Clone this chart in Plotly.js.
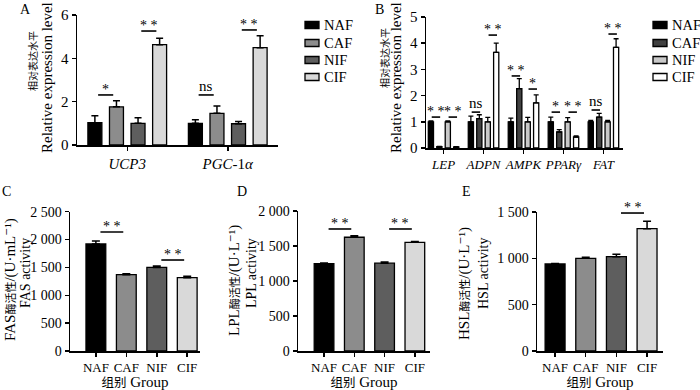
<!DOCTYPE html>
<html><head><meta charset="utf-8">
<script src="https://cdn.plot.ly/plotly-3.0.1.min.js"></script>
<style>html,body{margin:0;padding:0;background:#fff}#chart{width:700px;height:390px}</style>
</head><body><div id="chart"></div>
<script>
// ---------- data ----------
const groups = ['NAF', 'CAF', 'NIF', 'CIF'];

const genesA = ['UCP3', 'PGC-1α'];
const genesA_ticks = ['<i>UCP3</i>', '<i>PGC</i>-1<i>α</i>'];
const A_NAF = [1.03, 1.00], A_NAF_sd = [0.32, 0.17];
const A_CAF = [1.76, 1.46], A_CAF_sd = [0.28, 0.34];
const A_NIF = [1.00, 0.98], A_NIF_sd = [0.26, 0.11];
const A_CIF = [4.63, 4.49], A_CIF_sd = [0.30, 0.55];

const genesB = ['LEP', 'ADPN', 'AMPK', 'PPARγ', 'FAT'];
const genesB_ticks = ['<i>LEP</i>', '<i>ADPN</i>', '<i>AMPK</i>', '<i>PPARγ</i>', '<i>FAT</i>'];
const B_NAF = [1.00, 1.00, 1.00, 1.00, 1.00], B_NAF_sd = [0.03, 0.22, 0.14, 0.18, 0.05];
const B_CAF = [0.05, 1.12, 2.27, 0.61, 1.18], B_CAF_sd = [0.01, 0.15, 0.38, 0.09, 0.14];
const B_NIF = [1.00, 1.00, 1.00, 1.00, 1.00], B_NIF_sd = [0.03, 0.17, 0.17, 0.16, 0.05];
const B_CIF = [0.04, 3.65, 1.72, 0.42, 3.84], B_CIF_sd = [0.01, 0.35, 0.31, 0.04, 0.33];

const FAS = [1920, 1370, 1500, 1316], FAS_sd = [55, 18, 25, 24];
const LPL = [1248, 1625, 1255, 1553], LPL_sd = [10, 20, 15, 12];
const HSL = [939, 1000, 1018, 1320], HSL_sd = [6, 11, 25, 79];

// significance marks: [groupIndex, barFrom, barTo, level, label]
const sigA = [[0,0,1,2.31,'*'],[0,2,3,5.26,'* *'],[1,0,1,2.31,'ns'],[1,2,3,5.31,'* *']];
const sigB = [[0,0,1,1.18,'* *'],[0,2,3,1.18,'* *'],[1,0,1,1.37,'ns'],[1,2,3,4.31,'* *'],
              [2,0,1,2.75,'* *'],[2,2,3,2.25,'*'],[3,0,1,1.37,'*'],[3,2,3,1.37,'* *'],
              [4,0,1,1.45,'ns'],[4,2,3,4.35,'* *']];
const sigC = [[0,1,2136,'* *'],[2,3,1633,'* *']];
const sigD = [[0,1,1743,'* *'],[2,3,1743,'* *']];
const sigE = [[2,3,1489,'* *']];

// ---------- styling ----------
const SERIF = "'Liberation Serif', 'DejaVu Serif', 'Noto Sans CJK SC', serif";
const colsA = ['#000000', '#8c8c8c', '#5e5e5e', '#d9d9d9'];
const colsB = ['#000000', '#414141', '#c9c9c9', '#ffffff'];

const traces = [];
const valsA = [A_NAF, A_CAF, A_NIF, A_CIF], sdA = [A_NAF_sd, A_CAF_sd, A_NIF_sd, A_CIF_sd];
const valsB = [B_NAF, B_CAF, B_NIF, B_CIF], sdB = [B_NAF_sd, B_CAF_sd, B_NIF_sd, B_CIF_sd];
const wA = 0.139, stepA = 0.2147, wB = 0.13, stepB = 0.2113;
const centerA = k => (k - 1.5) * stepA;
const centerB = k => (k - 1.5) * stepB;

groups.forEach((g, k) => {
  traces.push({type: 'bar', name: g, x: genesA, y: valsA[k], xaxis: 'x', yaxis: 'y',
    showlegend: false, width: wA, offset: centerA(k) - wA / 2,
    marker: {color: colsA[k], line: {color: '#000', width: 1.3}},
    error_y: {type: 'data', symmetric: false, array: sdA[k], arrayminus: sdA[k].map(() => 0),
      color: '#000', thickness: 1.5, width: 3.5}});
});
groups.forEach((g, k) => {
  traces.push({type: 'bar', name: g, x: genesB, y: valsB[k], xaxis: 'x2', yaxis: 'y2',
    showlegend: false, width: wB, offset: centerB(k) - wB / 2,
    marker: {color: colsB[k], line: {color: '#000', width: 1.3}},
    error_y: {type: 'data', symmetric: false, array: sdB[k], arrayminus: sdB[k].map(() => 0),
      color: '#000', thickness: 1.3, width: 2.5}});
});
const single = [[FAS, FAS_sd, 'x3', 'y3'], [LPL, LPL_sd, 'x4', 'y4'], [HSL, HSL_sd, 'x5', 'y5']];
single.forEach(([v, sd, xa, ya]) => {
  traces.push({type: 'bar', x: groups, y: v, xaxis: xa, yaxis: ya, showlegend: false, width: 0.65,
    marker: {color: colsA, line: {color: '#000', width: 1.3}},
    error_y: {type: 'data', symmetric: false, array: sd, arrayminus: sd.map(() => 0),
      color: '#000', thickness: 1.5, width: 4}});
});

// ---------- shapes & annotations ----------
const shapes = [], annotations = [];
function addSig(xr, yr, x0, x1, yl, label) {
  shapes.push({type: 'line', xref: xr, yref: yr, x0: x0, x1: x1, y0: yl, y1: yl, line: {color: '#000', width: 1.6}});
  annotations.push({xref: xr, yref: yr, x: (x0 + x1) / 2, y: yl, text: label, showarrow: false,
    yanchor: 'bottom', yshift: label === 'ns' ? -1 : -4, font: {family: SERIF, size: label === 'ns' ? 15 : 14, color: '#000'}});
}
sigA.forEach(([gi, a, b, yl, t]) => {
  const pa = gi + centerA(a), pb = gi + centerA(b), d = pb - pa;
  addSig('x', 'y', pa + 0.15 * d, pb - 0.15 * d, yl, t);
});
sigB.forEach(([gi, a, b, yl, t]) => {
  const pa = gi + centerB(a), pb = gi + centerB(b);
  addSig('x2', 'y2', pa + 0.02, pb + 0.02, yl, t);
});
[[sigC, 'x3', 'y3'], [sigD, 'x4', 'y4'], [sigE, 'x5', 'y5']].forEach(([list, xr, yr]) => {
  list.forEach(([a, b, yl, t]) => addSig(xr, yr, a + 0.15, b - 0.1, yl, t));
});
// panel letters
[['A', 25, 9], ['B', 380, 9], ['C', 6, 191], ['D', 242, 191], ['E', 466, 191]].forEach(([t, px, py]) => {
  annotations.push({xref: 'paper', yref: 'paper', x: px / 700, y: 1 - py / 390, text: t, showarrow: false,
    xanchor: 'center', yanchor: 'middle', font: {family: SERIF, size: 14, color: '#000'}});
});
// y-axis titles (two lines each, rotated)
const cj = (s, sz) => '<span style="font-size:' + sz + 'px">' + s + '</span>';
const ytitles = [
  ['相对表达水平', 10, 33, 61],
  ['Relative expression level', 15, 47, 78],
  ['相对表达水平', 10, 385, 58],
  ['Relative expression level', 15, 396, 78],
  ['FAS' + cj('酶活性', 11) + '/(U·mL⁻¹)', 15, 10, 280],
  ['FAS activity', 14, 25, 273],
  ['LPL' + cj('酶活性', 11) + '/(U·L⁻¹)', 15, 234, 281],
  ['LPL activity', 14, 251, 273],
  ['HSL' + cj('酶活性', 11) + '/(U·L⁻¹)', 15, 464, 283],
  ['HSL activity', 14, 483, 273]
];
ytitles.forEach(([t, sz, px, py]) => {
  annotations.push({xref: 'paper', yref: 'paper', x: px / 700, y: 1 - py / 390, text: t, showarrow: false,
    textangle: -90, xanchor: 'center', yanchor: 'middle', font: {family: SERIF, size: sz, color: '#000'}});
});
// legends (drawn keys): [left px, row centres px, colours]
const legendSpecs = [[305, [25, 43, 60, 77], colsA], [653, [25, 43, 60, 77], colsB]];
legendSpecs.forEach(([lx, rows, cols]) => {
  groups.forEach((g, k) => {
    const cy = rows[k];
    shapes.push({type: 'rect', xref: 'paper', yref: 'paper', x0: lx / 700, x1: (lx + 14) / 700,
      y0: 1 - (cy + 3.5) / 390, y1: 1 - (cy - 3.5) / 390, fillcolor: cols[k], line: {color: '#000', width: 1.3}});
    annotations.push({xref: 'paper', yref: 'paper', x: (lx + 17) / 700, y: 1 - cy / 390, text: g, showarrow: false,
      xanchor: 'left', yanchor: 'middle', font: {family: SERIF, size: 14.5, color: '#000'}});
  });
});

// ---------- axes ----------
const P = (a, b) => [a / 700, b / 700];
const Q = (top, bottom) => [1 - bottom / 390, 1 - top / 390];
const baseAxis = {showline: true, linecolor: '#000', linewidth: 1.5, ticks: 'outside', ticklen: 4,
  tickwidth: 1.5, tickcolor: '#000', showgrid: false, zeroline: false, fixedrange: true,
  tickfont: {family: SERIF, size: 15, color: '#000'}};
const xcat = (dom, anchor, range, tv, tt, fs) => Object.assign({}, baseAxis, {domain: dom, anchor: anchor,
  type: 'category', range: range, tickvals: tv, ticktext: tt, tickangle: 0,
  tickfont: {family: SERIF, size: fs, color: '#000'}});
const yval = (dom, anchor, range, dtick, fmt, fs) => Object.assign({}, baseAxis, {domain: dom, anchor: anchor,
  range: range, dtick: dtick, tickformat: fmt, tickfont: {family: SERIF, size: fs, color: '#000'}});
const groupTitle = {text: cj('组别', 12.5) + ' Group', font: {family: SERIF, size: 15, color: '#000'}, standoff: 2};

const layout = {
  width: 700, height: 390, margin: {l: 0, r: 0, t: 0, b: 0}, paper_bgcolor: '#fff', plot_bgcolor: '#fff',
  barmode: 'overlay', separators: '. ', showlegend: false,
  font: {family: SERIF, color: '#000'},
  xaxis: xcat(P(77, 278), 'y', [-0.5, 1.5], genesA, genesA_ticks, 15),
  yaxis: yval(Q(15, 145), 'x', [0, 6], 2, '', 15),
  xaxis2: xcat(P(426, 623), 'y2', [-0.44, 4.49], genesB, genesB_ticks, 13),
  yaxis2: yval(Q(17, 148), 'x2', [0, 5], 1, '', 15),
  xaxis3: Object.assign(xcat(P(70, 200), 'y3', [-0.85, 3.42], groups, groups, 13), {title: groupTitle}),
  yaxis3: yval(Q(211.7, 351), 'x3', [0, 2500], 500, ',', 14),
  xaxis4: Object.assign(xcat(P(298, 430), 'y4', [-0.86, 3.5], groups, groups, 13), {title: groupTitle}),
  yaxis4: yval(Q(211, 351), 'x4', [0, 2000], 500, ',', 14),
  xaxis5: Object.assign(xcat(P(537, 663), 'y5', [-0.59, 3.52], groups, groups, 13), {title: groupTitle}),
  yaxis5: yval(Q(212, 351), 'x5', [0, 1500], 500, ',', 14),
  shapes: shapes, annotations: annotations
};
Plotly.newPlot('chart', traces, layout, {staticPlot: true, displayModeBar: false});
</script></body></html>
